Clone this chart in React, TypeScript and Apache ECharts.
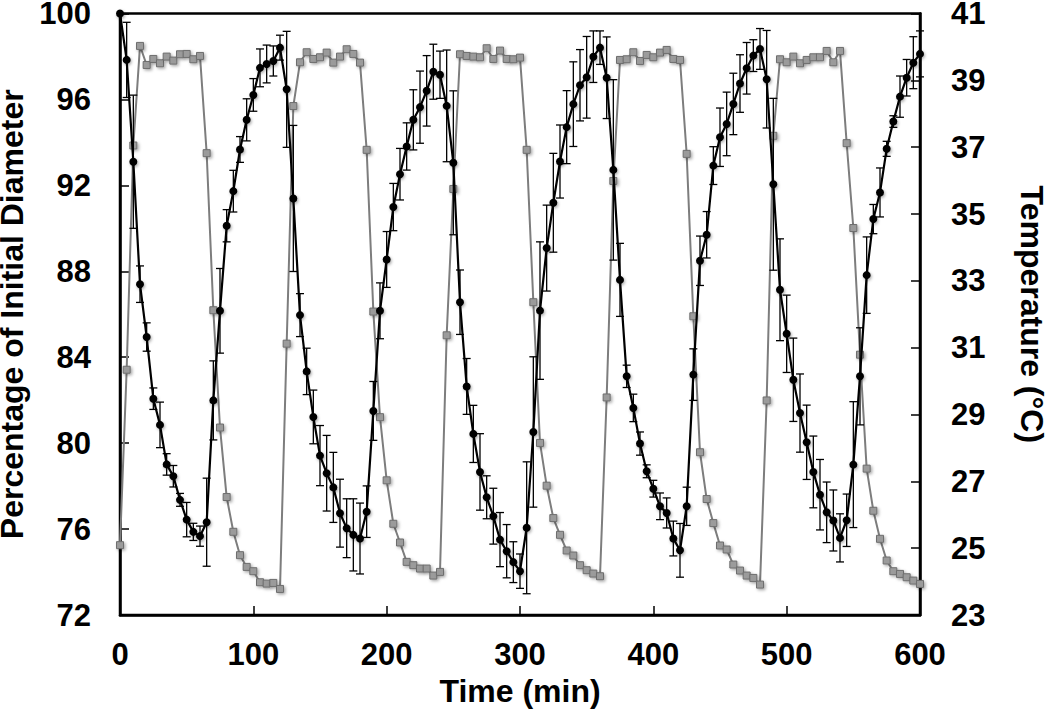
import React, { useEffect, useRef } from "react";
import * as echarts from "echarts";

// Time (min)
const timeMin = [
  0, 5, 10, 15, 20, 25, 30, 35, 40, 45, 50, 55, 60, 65, 70, 75, 80, 85, 90, 95,
  100, 105, 110, 115, 120, 125, 130, 135, 140, 145, 150, 155, 160, 165, 170, 175, 180, 185, 190, 195,
  200, 205, 210, 215, 220, 225, 230, 235, 240, 245, 250, 255, 260, 265, 270, 275, 280, 285, 290, 295,
  300, 305, 310, 315, 320, 325, 330, 335, 340, 345, 350, 355, 360, 365, 370, 375, 380, 385, 390, 395,
  400, 405, 410, 415, 420, 425, 430, 435, 440, 445, 450, 455, 460, 465, 470, 475, 480, 485, 490, 495,
  500, 505, 510, 515, 520, 525, 530, 535, 540, 545, 550, 555, 560, 565, 570, 575, 580, 585, 590, 595,
  600,
];

// Percentage of initial diameter (mean)
const diameter = [
  100, 97.84, 93.1, 87.4, 84.94, 82.07, 80.85, 79.01, 78.46, 77.36, 76.44, 75.87, 75.67, 76.32, 81.99, 86.16, 90.12, 91.73, 93.67, 95.05,
  96.21, 97.47, 97.65, 97.79, 98.41, 96.47, 91.39, 85.96, 83.34, 81.22, 79.42, 78.6, 77.94, 76.74, 76.04, 75.73, 75.56, 76.81, 81.5, 86.16,
  88.55, 90.99, 92.52, 93.81, 95.05, 95.64, 96.4, 97.29, 97.15, 95.7, 93.05, 86.56, 82.64, 80.43, 78.66, 77.48, 76.6, 75.51, 74.97, 74.46,
  74.04, 76.06, 80.52, 86.17, 89.08, 91.19, 93.11, 94.71, 95.78, 96.66, 97.03, 97.99, 98.41, 97.01, 92.72, 87.6, 83.11, 81.64, 79.98, 78.69,
  77.88, 77.06, 76.75, 75.56, 75.01, 77.06, 83.19, 88.49, 89.7, 92.92, 94.24, 94.86, 95.79, 96.74, 97.45, 98.04, 98.35, 96.94, 92.05, 87.14,
  85.09, 82.95, 81.4, 80.04, 78.66, 77.6, 76.78, 76.4, 75.59, 76.41, 79.0, 83.11, 87.82, 90.43, 91.67, 93.7, 94.97, 96.13, 97.01, 97.71,
  98.12,
];

// Error (± half-length of the error bar, in %)
const diameterErr = [
  0, 1.75, 3.1, 0.85, 0.66, 0.5, 1.06, 0.5, 0.5, 0.3, 0.8, 0.4, 0.47, 2.05, 1.84, 1.97, 0.75, 0.97, 0.6, 0.98,
  0.76, 0.88, 0.88, 0.7, 0.58, 2.7, 3.4, 1.0, 1.08, 1.25, 1.4, 1.76, 1.63, 1.58, 1.37, 1.68, 1.65, 1.2, 1.37, 1.3,
  1.3, 1.1, 1.2, 1.1, 1.4, 1.68, 1.64, 1.28, 1.1, 2.6, 3.35, 1.5, 1.3, 1.33, 1.78, 1.0, 1.3, 1.26, 1.24, 0.95,
  0.8, 3.07, 3.5, 3.2, 2.0, 2.3, 1.7, 1.7, 1.97, 1.66, 1.9, 1.2, 0.78, 1.9, 4.2, 1.7, 0.52, 0.64, 0.54, 0.3,
  0.39, 0.62, 0.7, 0.81, 1.25, 0.89, 1.2, 1.15, 1.08, 0.88, 1.36, 1.48, 1.43, 1.34, 1.2, 0.74, 0.95, 2.27, 4.0, 2.37,
  1.8, 1.94, 1.82, 1.73, 1.67, 1.64, 1.41, 1.42, 1.12, 1.22, 2.93, 2.26, 1.78, 0.68, 1.14, 0.35, 0.27, 0.96, 0.85, 1.21,
  1.07,
];

// Temperature (°C)
const temperature = [
  25.09, 30.34, 37.05, 40.03, 39.46, 39.64, 39.51, 39.71, 39.59, 39.78, 39.79, 39.63, 39.73, 36.82, 32.12, 28.61, 26.53, 25.49, 24.79, 24.44,
  24.31, 23.98, 23.94, 23.96, 23.78, 31.12, 38.23, 39.54, 39.84, 39.64, 39.69, 39.83, 39.53, 39.71, 39.93, 39.79, 39.53, 36.92, 32.08, 28.92,
  27.03, 25.73, 25.17, 24.59, 24.49, 24.39, 24.39, 24.18, 24.29, 31.37, 35.75, 39.78, 39.73, 39.71, 39.69, 39.96, 39.64, 39.89, 39.64, 39.63,
  39.68, 36.92, 32.36, 28.15, 26.87, 25.9, 25.4, 24.93, 24.78, 24.49, 24.34, 24.24, 24.16, 29.51, 35.99, 39.61, 39.63, 39.84, 39.58, 39.76,
  39.69, 39.83, 39.91, 39.64, 39.61, 36.8, 31.94, 27.87, 26.47, 25.75, 25.08, 24.96, 24.51, 24.33, 24.18, 24.11, 23.91, 29.42, 37.34, 39.63,
  39.54, 39.71, 39.51, 39.61, 39.69, 39.69, 39.88, 39.54, 39.88, 37.12, 34.58, 30.79, 27.38, 26.12, 25.28, 24.63, 24.31, 24.23, 24.13, 24.03,
  23.93,
];

const tempTicks = [23, 25, 27, 29, 31, 33, 35, 37, 39, 41];

const FONT = "'Liberation Sans', Arial, sans-serif";

export default function App() {
  const ref = useRef<HTMLDivElement>(null);

  useEffect(() => {
    if (!ref.current) return;
    const chart = echarts.init(ref.current, null, { renderer: "svg" });

    const diamData = timeMin.map((t, i) => [t, diameter[i]]);
    const tempData = timeMin.map((t, i) => [t, temperature[i]]);
    const errData = timeMin
      .map((t, i) => [t, diameter[i] - diameterErr[i], diameter[i] + diameterErr[i]])
      .filter((_, i) => diameterErr[i] > 0);

    const labelStyle = {
      color: "#000",
      fontFamily: FONT,
      fontWeight: "bold" as const,
      fontSize: 31,
    };
    const nameStyle = {
      color: "#000",
      fontFamily: FONT,
      fontWeight: "bold" as const,
      fontSize: 32,
    };

    chart.setOption({
      animation: false,
      grid: {
        left: 120,
        right: 130,
        top: 13.5,
        bottom: 100,
        containLabel: false,
        outerBoundsMode: "none",
        show: true,
        borderColor: "#000",
        borderWidth: 2.5,
        backgroundColor: "transparent",
      },
      xAxis: {
        type: "value",
        min: 0,
        max: 600,
        interval: 100,
        name: "Time (min)",
        nameLocation: "middle",
        nameGap: 45,
        nameTextStyle: nameStyle,
        axisLine: { show: true, lineStyle: { color: "#000", width: 2.5 } },
        axisTick: { show: true, inside: true, length: 9, lineStyle: { color: "#000", width: 1.5 } },
        axisLabel: { ...labelStyle, margin: 24 },
        splitLine: { show: false },
      },
      yAxis: [
        {
          type: "value",
          min: 72,
          max: 100,
          interval: 4,
          name: "Percentage of Initial Diameter",
          nameLocation: "middle",
          nameGap: 84,
          nameTextStyle: nameStyle,
          axisLine: { show: true, lineStyle: { color: "#000", width: 2.5 } },
          axisTick: { show: true, inside: true, length: 9, lineStyle: { color: "#000", width: 1.5 } },
          axisLabel: { ...labelStyle, margin: 29 },
          splitLine: { show: false },
        },
        {
          type: "value",
          min: 23,
          max: 41,
          position: "right",
          name: "Temperature (°C)",
          nameLocation: "middle",
          nameRotate: -90,
          nameGap: 96,
          nameTextStyle: nameStyle,
          axisLine: { show: true, lineStyle: { color: "#000", width: 2.5 } },
          axisTick: {
            show: true,
            inside: true,
            length: 9,
            customValues: tempTicks,
            lineStyle: { color: "#000", width: 1.5 },
          },
          axisLabel: { ...labelStyle, margin: 31, customValues: tempTicks },
          splitLine: { show: false },
        },
      ],
      series: [
        {
          name: "Temperature",
          type: "line",
          yAxisIndex: 1,
          data: tempData,
          symbol: "rect",
          symbolSize: 7,
          lineStyle: { color: "#7d7d7d", width: 2 },
          itemStyle: {
            color: "#9b9b9b",
            borderColor: "#6e6e6e",
            borderWidth: 1,
            shadowBlur: 3,
            shadowOffsetX: 1.5,
            shadowOffsetY: 1.5,
            shadowColor: "rgba(0,0,0,0.35)",
          },
          z: 2,
        },
        {
          name: "Error",
          type: "custom",
          yAxisIndex: 0,
          data: errData,
          encode: { x: 0, y: [1, 2] },
          renderItem: (params: any, api: any) => {
            const x = api.value(0);
            const lo = api.value(1);
            const hi = api.value(2);
            const pHi = api.coord([x, hi]);
            const pLo = api.coord([x, lo]);
            const cw = 4;
            const st = { stroke: "#000", lineWidth: 1.3 };
            return {
              type: "group",
              children: [
                { type: "line", shape: { x1: pHi[0], y1: pHi[1], x2: pLo[0], y2: pLo[1] }, style: st },
                { type: "line", shape: { x1: pHi[0] - cw, y1: pHi[1], x2: pHi[0] + cw, y2: pHi[1] }, style: st },
                { type: "line", shape: { x1: pLo[0] - cw, y1: pLo[1], x2: pLo[0] + cw, y2: pLo[1] }, style: st },
              ],
            };
          },
          z: 3,
        },
        {
          name: "Diameter",
          type: "line",
          yAxisIndex: 0,
          data: diamData,
          symbol: "circle",
          symbolSize: 8,
          lineStyle: { color: "#000", width: 2.2 },
          itemStyle: {
            color: "#000",
            shadowBlur: 3,
            shadowOffsetX: 1,
            shadowOffsetY: 1.5,
            shadowColor: "rgba(0,0,0,0.35)",
          },
          z: 4,
        },
      ],
    });

    return () => chart.dispose();
  }, []);

  return (
    <div
      ref={ref}
      style={{ position: "absolute", left: 0, top: 0, width: 1050, height: 715, background: "#fff" }}
    />
  );
}
